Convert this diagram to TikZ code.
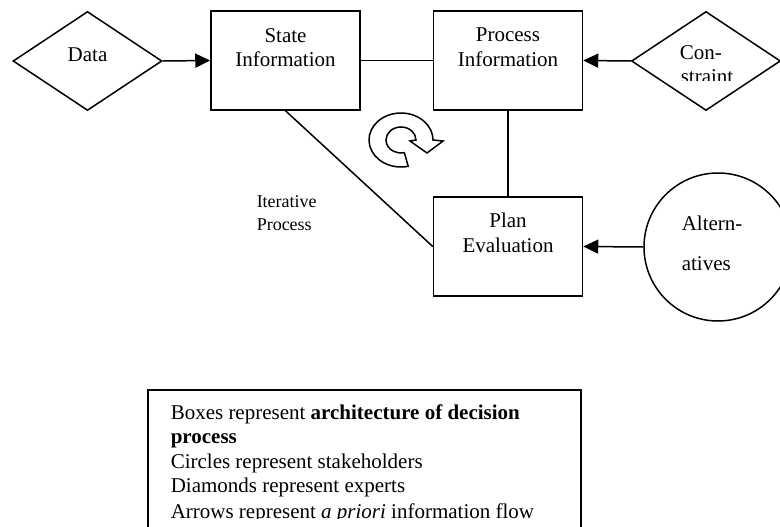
\documentclass[tikz,border=0pt]{standalone}
\usepackage{fontspec}
\setmainfont{Liberation Serif}
\usetikzlibrary{arrows.meta,shapes.geometric}
\begin{document}
\begin{tikzpicture}[x=1pt,y=-1pt,line width=1.5pt,
  box/.style={draw,rectangle,minimum width=149pt,minimum height=99pt,inner sep=0pt},
  expert/.style={draw,diamond,minimum width=149pt,minimum height=99pt,inner sep=0pt},
  holder/.style={draw,circle,minimum size=148pt,inner sep=0pt},
  lbl/.style={font=\fontsize{21}{24}\selectfont,inner sep=0pt,anchor=base},
  lblw/.style={font=\fontsize{21}{24}\selectfont,inner sep=0pt,anchor=base west},
  small/.style={font=\fontsize{18}{22}\selectfont,inner sep=0pt,anchor=base west},
  flow/.style={-{Triangle[length=15pt,width=14pt]}},
  link/.style={-}]
\clip (0,0) rectangle (780,527);
\fill[white] (0,0) rectangle (780,527);

% shapes
\node[expert] (data) at (87.5,61) {};
\node[box] (state) at (285.5,60.5) {};
\node[box] (proc) at (508,60.5) {};
\node[expert] (cons) at (706,61) {};
\node[box] (plan) at (508,246.5) {};
\node[holder] (alt) at (718,247) {};

% labels
\node[lbl] (dataT) at (87.5,62) {Data};
\node[lbl] (stateT1) at (285.5,43) {State};
\node[lbl] (stateT2) at (285.5,67) {Information};
\node[lbl] (procT1) at (508,42) {Process};
\node[lbl] (procT2) at (508,67) {Information};
\node[lbl] (planT1) at (508,227) {Plan};
\node[lbl] (planT2) at (508,252) {Evaluation};
\node[lblw] (altT1) at (681,230) {Altern-};
\node[lblw] (altT2) at (681,270) {atives};
\begin{scope}
  \clip (650,35) rectangle (770,80.5);
  \node[lblw] (consT1) at (679,60) {Con-};
  \node[lblw] (consT2) at (680,84) {straint};
\end{scope}
\node[small] (iter1) at (256,207) {Iterative};
\node[small] (iter2) at (256,230) {Process};

% connectors
\draw[flow] (data.east) -- (state.west);
\draw[link] (state.east) -- (proc.west);
\draw[flow] (cons.west) -- (proc.east);
\draw[link] (proc.south) -- (plan.north);
\draw[link] (state.south) -- (plan.west);
\draw[flow] (alt.west) -- (plan.east);

% circular arrow symbol
\draw (401,140) ++(77:32 and 27)
  arc[start angle=77,end angle=360,x radius=32,y radius=27]
  -- (443,141) -- (427,153) -- (410,141) -- (416,140)
  arc[start angle=360,end angle=77,x radius=15,y radius=13] -- cycle;

% legend
\draw[line width=1.8pt] (148,390) rectangle (581,560);
\begin{scope}
  \clip (150,392) rectangle (579,518.5);
  \node[lblw] (leg1) at (170,419) {Boxes represent \textbf{architecture of decision}};
  \node[lblw] (leg2) at (170,443.5) {\textbf{process}};
  \node[lblw] (leg3) at (170,468) {Circles represent stakeholders};
  \node[lblw] (leg4) at (170,492.5) {Diamonds represent experts};
  \node[lblw] (leg5) at (170,518.5) {Arrows represent \textit{a priori} information flow};
\end{scope}
\end{tikzpicture}
\end{document}
